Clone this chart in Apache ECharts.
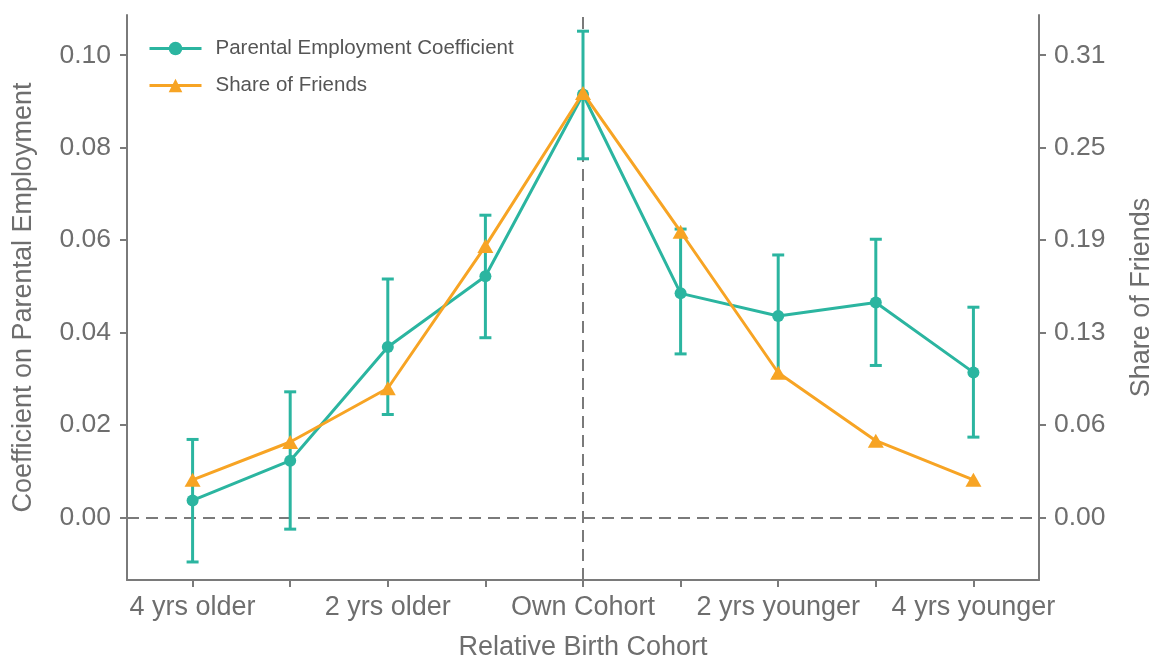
<!DOCTYPE html>
<html>
<head>
<meta charset="utf-8">
<script src="https://cdn.jsdelivr.net/npm/echarts@6/dist/echarts.min.js"></script>
<style>
  html, body { margin: 0; padding: 0; background: #ffffff; }
  #chart { width: 1152px; height: 656px; }
</style>
</head>
<body>
<div id="chart"></div>
<script>
// relative birth cohort (-4 = 4 yrs older ... 4 = 4 yrs younger)
const cohorts = [-4, -3, -2, -1, 0, 1, 2, 3, 4];
const coef = [0.0037, 0.0123, 0.0369, 0.0522, 0.0915, 0.0485, 0.0436, 0.0465, 0.0314];
const ciLow = [-0.0096, -0.0025, 0.0223, 0.0389, 0.0776, 0.0354, 0.0303, 0.0329, 0.0174];
const ciHigh = [0.0169, 0.0272, 0.0516, 0.0654, 0.1052, 0.0624, 0.0568, 0.0602, 0.0455];
const share = [0.0255, 0.0511, 0.0874, 0.1835, 0.287, 0.1932, 0.0979, 0.052, 0.0255];

const xLabelValues = [-4, -2, 0, 2, 4];
const xLabels = ['4 yrs older', '2 yrs older', 'Own Cohort', '2 yrs younger', '4 yrs younger'];
const leftTicks = [0, 0.02, 0.04, 0.06, 0.08, 0.10];
const leftTickLabels = ['0.00', '0.02', '0.04', '0.06', '0.08', '0.10'];
const rightTicks = [0, 0.0625, 0.125, 0.1875, 0.25, 0.3125];
const rightTickLabels = ['0.00', '0.06', '0.13', '0.19', '0.25', '0.31'];

const teal = '#2bb5a0';
const orange = '#f7a424';
const axisGray = '#7a7a7a';
const textGray = '#6e6e6e';
const font = '"Liberation Sans", Arial, Helvetica, sans-serif';

// right axis is the left axis times this
const ratio = 3.125;
const yMin = -0.0135, yMax = 0.1087;

const axisLine = { show: true, onZero: false, lineStyle: { color: axisGray, width: 2 } };
const axisTick = { show: true, length: 7, lineStyle: { color: axisGray, width: 2 } };

function nearestLabel(ticks, labels, v) {
  let best = 0;
  ticks.forEach(function (t, i) { if (Math.abs(t - v) < Math.abs(ticks[best] - v)) best = i; });
  return labels[best];
}

const option = {
  backgroundColor: '#ffffff',
  animation: false,
  grid: { left: 127, right: 113, top: 15, bottom: 76, containLabel: false, outerBoundsMode: 'none' },
  legend: {
    orient: 'vertical',
    left: 143,
    top: 33,
    itemWidth: 52,
    itemHeight: 17,
    itemGap: 16,
    lineStyle: { width: 3 },
    textStyle: { fontFamily: font, fontSize: 20.5, color: '#555555', padding: [0, 0, 0, 9] },
    data: ['Parental Employment Coefficient', 'Share of Friends']
  },
  xAxis: {
    type: 'value',
    min: -4.672,
    max: 4.672,
    name: 'Relative Birth Cohort',
    nameLocation: 'middle',
    nameGap: 54,
    nameMoveOverlap: false,
    nameTextStyle: { fontFamily: font, fontSize: 27, color: textGray },
    axisLine: axisLine,
    axisTick: Object.assign({ customValues: cohorts }, axisTick),
    splitLine: { show: false },
    axisLabel: {
      customValues: xLabelValues,
      margin: 14,
      fontFamily: font,
      fontSize: 27,
      color: textGray,
      formatter: function (v) { return nearestLabel(xLabelValues, xLabels, v); }
    }
  },
  yAxis: [{
    type: 'value',
    position: 'left',
    min: yMin,
    max: yMax,
    name: 'Coefficient on Parental Employment',
    nameLocation: 'middle',
    nameRotate: 90,
    nameGap: 90,
    nameMoveOverlap: false,
    nameTextStyle: { fontFamily: font, fontSize: 27, color: textGray },
    axisLine: axisLine,
    axisTick: Object.assign({ customValues: leftTicks }, axisTick),
    splitLine: { show: false },
    axisLabel: {
      customValues: leftTicks,
      margin: 16,
      fontFamily: font,
      fontSize: 26.5,
      color: textGray,
      formatter: function (v) { return nearestLabel(leftTicks, leftTickLabels, v); }
    }
  }, {
    type: 'value',
    position: 'right',
    min: yMin * ratio,
    max: yMax * ratio,
    name: 'Share of Friends',
    nameLocation: 'middle',
    nameRotate: 90,
    nameGap: 89,
    nameMoveOverlap: false,
    nameTextStyle: { fontFamily: font, fontSize: 27, color: textGray },
    axisLine: axisLine,
    axisTick: Object.assign({ customValues: rightTicks }, axisTick),
    splitLine: { show: false },
    axisLabel: {
      customValues: rightTicks,
      margin: 15,
      fontFamily: font,
      fontSize: 26.5,
      color: textGray,
      formatter: function (v) { return nearestLabel(rightTicks, rightTickLabels, v); }
    }
  }],
  series: [{
    // reference lines at zero and at own cohort, kept under the marks
    name: 'ref',
    type: 'line',
    yAxisIndex: 0,
    z: 0,
    silent: true,
    data: [],
    markLine: {
      z: 0,
      silent: true,
      symbol: 'none',
      label: { show: false },
      lineStyle: { color: axisGray, width: 2, type: [12, 7] },
      data: [{ yAxis: 0 }, { xAxis: 0 }]
    }
  }, {
    name: 'ci',
    type: 'custom',
    yAxisIndex: 0,
    z: 1,
    silent: true,
    encode: { x: 0, y: [1, 2] },
    data: cohorts.map(function (c, i) { return [c, ciLow[i], ciHigh[i]]; }),
    renderItem: function (params, api) {
      const top = api.coord([api.value(0), api.value(2)]);
      const bot = api.coord([api.value(0), api.value(1)]);
      const w = 6;
      const st = { stroke: teal, lineWidth: 3 };
      return {
        type: 'group',
        children: [
          { type: 'line', shape: { x1: top[0], y1: top[1], x2: bot[0], y2: bot[1] }, style: st },
          { type: 'line', shape: { x1: top[0] - w, y1: top[1], x2: top[0] + w, y2: top[1] }, style: st },
          { type: 'line', shape: { x1: bot[0] - w, y1: bot[1], x2: bot[0] + w, y2: bot[1] }, style: st }
        ]
      };
    }
  }, {
    name: 'Parental Employment Coefficient',
    type: 'line',
    yAxisIndex: 0,
    z: 2,
    data: cohorts.map(function (c, i) { return [c, coef[i]]; }),
    symbol: 'circle',
    symbolSize: 12,
    color: teal,
    lineStyle: { color: teal, width: 3 },
    itemStyle: { color: teal }
  }, {
    name: 'Share of Friends',
    type: 'line',
    yAxisIndex: 1,
    z: 3,
    data: cohorts.map(function (c, i) { return [c, share[i]]; }),
    symbol: 'triangle',
    symbolSize: [16, 14],
    color: orange,
    lineStyle: { color: orange, width: 3 },
    itemStyle: { color: orange }
  }]
};

const chart = echarts.init(document.getElementById('chart'));
chart.setOption(option);
</script>
</body>
</html>
